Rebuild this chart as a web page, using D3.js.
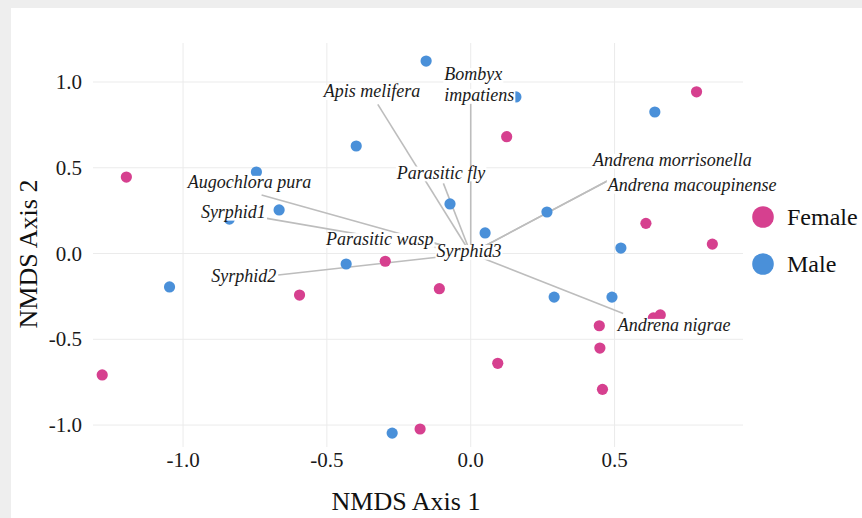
<!DOCTYPE html>
<html>
<head>
<meta charset="utf-8">
<title>NMDS</title>
<script src="https://cdn.jsdelivr.net/npm/d3@7"></script>
<style>
  body { margin: 0; background: #ffffff; }
  svg { display: block; }
</style>
</head>
<body>
<div id="chart"></div>
<script>
// sample scores
const female_x = [-1.197, 0.785, 0.125, 0.609, 0.840, -0.297, -0.595, -0.109, -1.281, -0.176, 0.094, 0.458, 0.447, 0.449, 0.635, 0.659];
const female_y = [0.446, 0.943, 0.681, 0.176, 0.055, -0.045, -0.242, -0.205, -0.708, -1.023, -0.640, -0.792, -0.421, -0.551, -0.375, -0.358];

const male_x = [-0.155, 0.157, -0.398, 0.640, -0.745, -0.666, -0.839, -0.072, 0.265, 0.050, 0.522, -0.433, -1.047, 0.290, 0.491, -0.273];
const male_y = [1.122, 0.913, 0.627, 0.825, 0.475, 0.254, 0.201, 0.289, 0.242, 0.120, 0.032, -0.061, -0.195, -0.254, -0.254, -1.047];

// fitted vectors (end of each line) and where their names sit
const vector_names = ["Apis melifera", "Bombyx\nimpatiens", "Parasitic fly", "Andrena morrisonella", "Andrena macoupinense",
  "Andrena nigrae", "Parasitic wasp", "Augochlora pura", "Syrphid1", "Syrphid2", "Syrphid3"];
const vector_x = [-0.323, 0.0, -0.095, 0.481, 0.481, 0.530, -0.155, -0.727, -0.709, -0.669, 0.0];
const vector_y = [0.870, 0.895, 0.409, 0.429, 0.429, -0.349, 0.076, 0.341, 0.205, -0.125, 0.0];
const label_x = [-0.343, 0.030, -0.103, 0.701, 0.770, 0.707, -0.316, -0.769, -0.825, -0.789, -0.006];
const label_y = [0.942, 0.980, 0.467, 0.541, 0.395, -0.421, 0.079, 0.413, 0.238, -0.135, 0.010];

const x_ticks = [-1.0, -0.5, 0.0, 0.5];
const y_ticks = [-1.0, -0.5, 0.0, 0.5, 1.0];
const groups = ["Female", "Male"];

const x_title = "NMDS Axis 1";
const y_title = "NMDS Axis 2";

const svg_width = 862;
const svg_height = 518;
const font = "'Liberation Serif', 'Times New Roman', serif";
const colors = { "Female": "#d6408f", "Male": "#4a90d9" };

const svg = d3.select("#chart")
  .append("svg")
  .attr("width", svg_width)
  .attr("height", svg_height)
  .style("font-family", font);

// page edge, greyish band on top and left
svg.append("rect").attr("width", svg_width).attr("height", svg_height).attr("fill", "#eeeeee");
svg.append("rect").attr("x", 11).attr("y", 8)
  .attr("width", svg_width - 11).attr("height", svg_height - 8).attr("fill", "#ffffff");

const x = d3.scaleLinear().domain([-1.313, 0.9465]).range([93, 743]);
const y = d3.scaleLinear().domain([-1.128, 1.2274]).range([447, 43]);

const tick_text = d => d.toFixed(1);

// grid
svg.append("g")
  .selectAll("line")
  .data(x_ticks)
  .join("line")
    .attr("x1", d => x(d)).attr("x2", d => x(d))
    .attr("y1", y.range()[0]).attr("y2", y.range()[1])
    .attr("stroke", "#ebebeb").attr("stroke-width", 1);

svg.append("g")
  .selectAll("line")
  .data(y_ticks)
  .join("line")
    .attr("x1", x.range()[0]).attr("x2", x.range()[1])
    .attr("y1", d => y(d)).attr("y2", d => y(d))
    .attr("stroke", "#ebebeb").attr("stroke-width", 1);

// tick labels
svg.append("g")
  .selectAll("text")
  .data(x_ticks)
  .join("text")
    .attr("x", d => x(d))
    .attr("y", 467)
    .attr("text-anchor", "middle")
    .attr("font-size", 21)
    .attr("fill", "#1a1a1a")
    .text(tick_text);

svg.append("g")
  .selectAll("text")
  .data(y_ticks)
  .join("text")
    .attr("x", 82)
    .attr("y", d => y(d) + 7)
    .attr("text-anchor", "end")
    .attr("font-size", 21)
    .attr("fill", "#1a1a1a")
    .text(tick_text);

// axis titles
svg.append("text")
  .attr("x", 406).attr("y", 510)
  .attr("text-anchor", "middle")
  .attr("font-size", 26)
  .attr("fill", "#111")
  .text(x_title);

svg.append("text")
  .attr("transform", "translate(37,254) rotate(-90)")
  .attr("text-anchor", "middle")
  .attr("font-size", 26)
  .attr("fill", "#111")
  .text(y_title);

// vector lines from the origin
const vectors = vector_names.map((name, i) => ({
  name: name, vx: vector_x[i], vy: vector_y[i], lx: label_x[i], ly: label_y[i]
}));

svg.append("g")
  .selectAll("line")
  .data(vectors)
  .join("line")
    .attr("x1", x(0)).attr("y1", y(0))
    .attr("x2", d => x(d.vx)).attr("y2", d => y(d.vy))
    .attr("stroke", "#bdbdbd")
    .attr("stroke-width", 1.6);

// points
const points = [];
female_x.forEach((v, i) => points.push({ group: "Female", px: v, py: female_y[i] }));
male_x.forEach((v, i) => points.push({ group: "Male", px: v, py: male_y[i] }));

svg.append("g")
  .selectAll("circle")
  .data(points)
  .join("circle")
    .attr("cx", d => x(d.px))
    .attr("cy", d => y(d.py))
    .attr("r", 5.6)
    .attr("fill", d => colors[d.group]);

// vector names on white boxes; two-line names are left aligned
const label_size = 18;
const line_gap = 21;
const labels = svg.append("g");

vectors.forEach(d => {
  const rows = d.name.split("\n");
  const cx = x(d.lx);
  const cy = y(d.ly);
  const g = labels.append("g");
  const texts = rows.map((row, k) => {
    const base = cy + (k - (rows.length - 1) / 2) * line_gap + 0.3 * label_size;
    const box = g.append("rect").attr("fill", "#ffffff");
    const t = g.append("text")
      .attr("y", base)
      .attr("font-size", label_size)
      .attr("font-style", "italic")
      .attr("fill", "#1a1a1a")
      .text(row);
    return { box: box, t: t, base: base, w: t.node().getComputedTextLength() };
  });
  const widest = d3.max(texts, r => r.w);
  texts.forEach(r => {
    const left = rows.length > 1 ? cx - widest / 2 : cx - r.w / 2;
    r.t.attr("x", left);
    r.box.attr("x", left - 1)
      .attr("y", r.base - 0.68 * label_size)
      .attr("width", r.w + 2)
      .attr("height", 0.82 * label_size);
  });
});

// legend
const legend = svg.append("g")
  .selectAll("g")
  .data(groups)
  .join("g")
    .attr("transform", (d, i) => `translate(763, ${217 + i * 47})`);

legend.append("circle")
  .attr("r", 10.8)
  .attr("fill", d => colors[d]);

legend.append("text")
  .attr("x", 24)
  .attr("y", 8)
  .attr("font-size", 24)
  .attr("fill", "#111")
  .text(d => d);
</script>
</body>
</html>
